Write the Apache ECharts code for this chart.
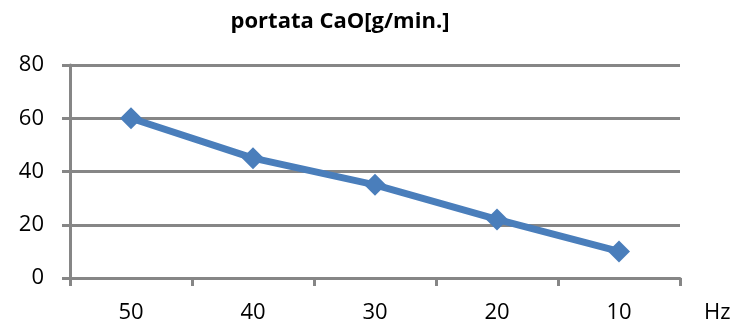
<!DOCTYPE html>
<html>
<head>
<meta charset="utf-8">
<script src="https://cdn.jsdelivr.net/npm/echarts@6/dist/echarts.min.js"></script>
<style>
  html, body { margin: 0; padding: 0; background: #fff; }
  #chart { width: 734px; height: 327px; }
</style>
</head>
<body>
<div id="chart"></div>
<script>
// Frequency steps (Hz) and the CaO flow measured at each step
const frequencies = ['50', '40', '30', '20', '10'];
const flowCaO = [60, 45, 35, 22, 10];
const yTicks = { min: 0, max: 80, interval: 20 };

const FONT = '"Open Sans", "DejaVu Sans", sans-serif';
const GRID_COLOR = '#868686';

const chart = echarts.init(document.getElementById('chart'), null, { renderer: 'canvas' });
chart.setOption({
  animation: false,
  backgroundColor: '#ffffff',
  title: {
    text: 'portata CaO[g/min.]',
    left: 335,
    textAlign: 'center',
    top: 6,
    textStyle: { fontFamily: FONT, fontWeight: 'bold', fontSize: 22, color: '#000' }
  },
  grid: { left: 70, right: 54, top: 65, bottom: 49, containLabel: false },
  xAxis: {
    type: 'category',
    data: frequencies,
    boundaryGap: true,
    name: 'Hz',
    nameLocation: 'end',
    nameGap: 24,
    nameTextStyle: { fontFamily: FONT, fontSize: 22, color: '#000', verticalAlign: 'top', padding: [24, 0, 0, 0] },
    axisLine: { show: true, lineStyle: { color: GRID_COLOR, width: 3 } },
    axisTick: { show: true, length: 8, alignWithLabel: false, lineStyle: { color: GRID_COLOR, width: 3 } },
    axisLabel: { fontFamily: FONT, fontSize: 22, color: '#000', margin: 24 },
    splitLine: { show: false }
  },
  yAxis: {
    type: 'value',
    min: yTicks.min,
    max: yTicks.max,
    interval: yTicks.interval,
    axisLine: { show: true, lineStyle: { color: GRID_COLOR, width: 3 } },
    axisTick: { show: true, length: 8, lineStyle: { color: GRID_COLOR, width: 3 } },
    axisLabel: { fontFamily: FONT, fontSize: 22, color: '#000', margin: 26 },
    splitLine: { show: true, lineStyle: { color: GRID_COLOR, width: 3 } }
  },
  series: [{
    type: 'line',
    data: flowCaO,
    symbol: 'diamond',
    symbolSize: 22,
    lineStyle: { color: '#4a7ebb', width: 7 },
    itemStyle: { color: '#4a7ebb' },
    z: 5
  }]
});
</script>
</body>
</html>
